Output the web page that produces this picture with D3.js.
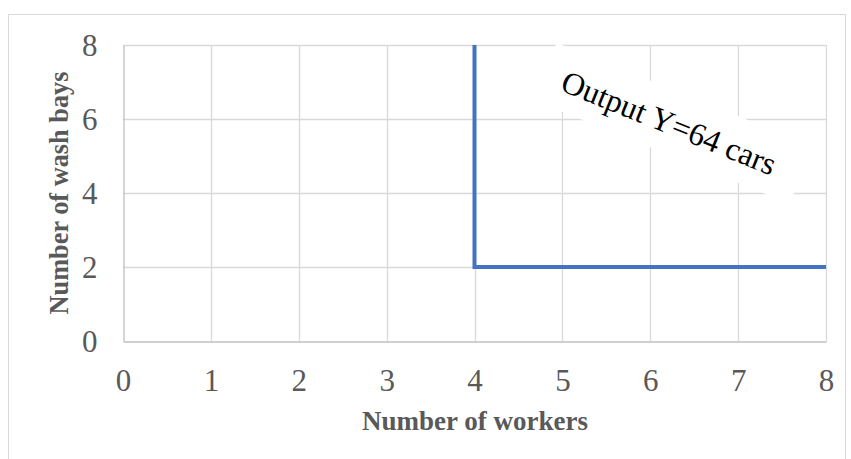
<!DOCTYPE html>
<html>
<head>
<meta charset="utf-8">
<script src="https://cdn.jsdelivr.net/npm/d3@7"></script>
<style>
  html, body { margin: 0; padding: 0; background: #fff; }
  svg { display: block; }
  text { font-family: "Liberation Serif", "Times New Roman", serif; }
</style>
</head>
<body>
<div id="chart"></div>
<script>
// Isoquant: output of 64 cars with fixed proportions of workers and wash bays
const workers = [4, 4, 8];
const washBays = [8, 2, 2];
const xTicks = [0, 1, 2, 3, 4, 5, 6, 7, 8];
const yTicks = [0, 2, 4, 6, 8];
const xTitle = "Number of workers";
const yTitle = "Number of wash bays";
const annotation = "Output Y=64 cars";

const W = 851, H = 459;
const margin = { left: 123, right: 25, top: 45, bottom: 118 };

const svg = d3.select("#chart").append("svg")
  .attr("width", W).attr("height", H);

// chart frame
svg.append("rect")
  .attr("x", 8.5).attr("y", 14.5)
  .attr("width", 837).attr("height", 460)
  .attr("fill", "#fff").attr("stroke", "#d9d9d9").attr("stroke-width", 1);

const x = d3.scaleLinear().domain([0, 8]).range([margin.left, W - margin.right]);
const y = d3.scaleLinear().domain([0, 8]).range([H - margin.bottom, margin.top]);

// gridlines
const grid = svg.append("g");
grid.selectAll("line.v").data(xTicks.filter(d => d > 0)).join("line")
  .attr("x1", d => Math.round(x(d)) + 0.5).attr("x2", d => Math.round(x(d)) + 0.5)
  .attr("y1", y(8)).attr("y2", y(0))
  .attr("stroke", "#d9d9d9").attr("stroke-width", 1.3);
grid.selectAll("line.h").data(yTicks.filter(d => d > 0)).join("line")
  .attr("x1", x(0)).attr("x2", x(8))
  .attr("y1", d => Math.round(y(d)) + 0.5).attr("y2", d => Math.round(y(d)) + 0.5)
  .attr("stroke", "#d9d9d9").attr("stroke-width", 1.3);

// axes
const xAxis = svg.append("g")
  .attr("transform", `translate(0,${Math.round(y(0)) + 0.5})`)
  .call(d3.axisBottom(x).tickValues(xTicks).tickSize(0).tickPadding(27).tickFormat(d3.format("d")));
const yAxis = svg.append("g")
  .attr("transform", `translate(${Math.round(x(0)) + 0.5},0)`)
  .call(d3.axisLeft(y).tickValues(yTicks).tickSize(0).tickPadding(26).tickFormat(d3.format("d")));
[xAxis, yAxis].forEach(a => {
  a.select(".domain").attr("stroke", "#bfbfbf").attr("stroke-width", 1.3);
  a.selectAll("text").attr("fill", "#595959").attr("font-size", 31)
    .attr("font-family", "Liberation Serif, Times New Roman, serif");
});
yAxis.selectAll("text").attr("dy", "0.34em");

// axis titles
svg.append("text")
  .attr("x", 475).attr("y", 430)
  .attr("text-anchor", "middle")
  .attr("font-size", 27).attr("font-weight", "bold").attr("fill", "#595959")
  .text(xTitle);
svg.append("text")
  .attr("transform", `translate(68,${193}) rotate(-90)`)
  .attr("text-anchor", "middle")
  .attr("font-size", 27).attr("font-weight", "bold").attr("fill", "#595959")
  .attr("textLength", 243).attr("lengthAdjust", "spacingAndGlyphs")
  .text(yTitle);

// isoquant
svg.append("path")
  .datum(workers.map((w, i) => [w, washBays[i]]))
  .attr("d", d3.line().x(d => x(d[0])).y(d => y(d[1])))
  .attr("fill", "none").attr("stroke", "#4472c4").attr("stroke-width", 4)
  .attr("stroke-linejoin", "miter");

// rotated label with a white text box behind it
const angle = 22;
const label = svg.append("g")
  .attr("transform", `translate(559,90) rotate(${angle})`);
const bg = label.append("rect").attr("fill", "#fff");
const t = label.append("text")
  .attr("x", 0).attr("y", 0)
  .attr("font-size", 32).attr("fill", "#000")
  .text(annotation);
const bb = t.node().getBBox();
bg.attr("x", bb.x - 20).attr("y", bb.y - 14)
  .attr("width", bb.width + 20 + 28).attr("height", bb.height + 26);
</script>
</body>
</html>
